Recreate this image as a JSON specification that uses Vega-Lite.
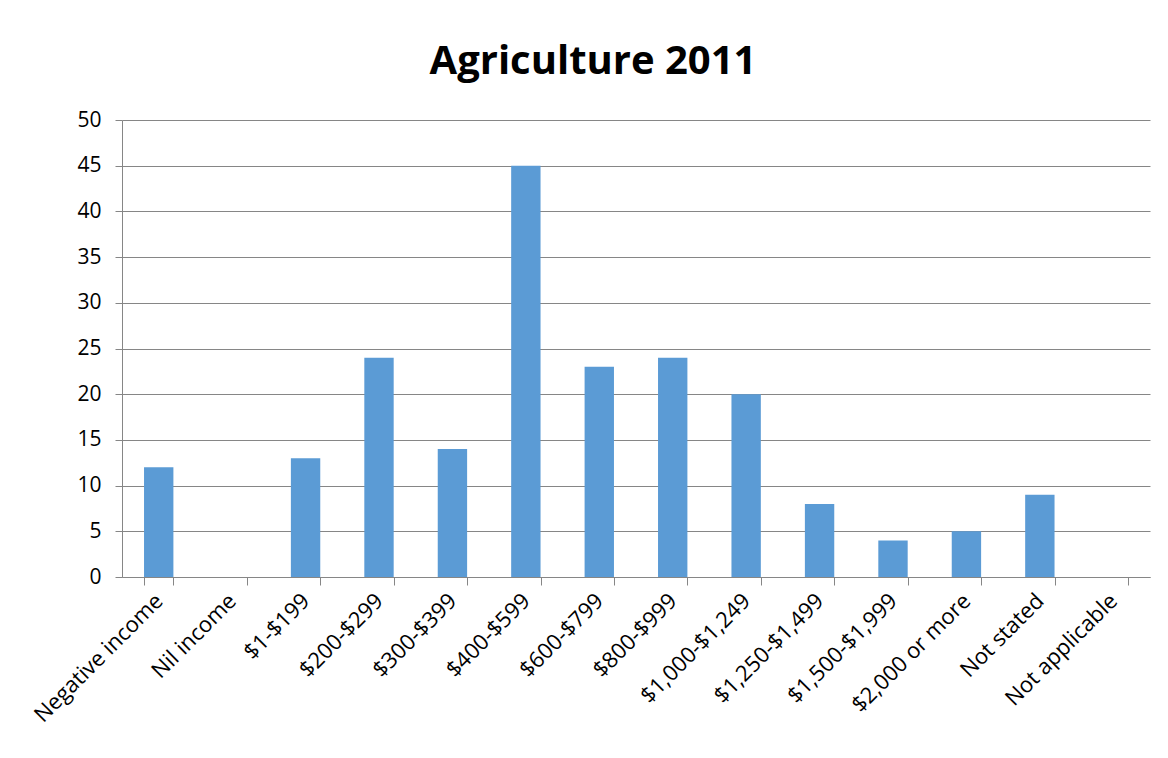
{
  "$schema": "https://vega.github.io/schema/vega-lite/v6.json",
  "autosize": "none",
  "width": 1028,
  "height": 457,
  "padding": {"left": 122, "top": 120, "right": 18, "bottom": 181},
  "background": "white",
  "title": {
    "text": "Agriculture 2011",
    "font": "Open Sans",
    "fontSize": 40,
    "fontWeight": "bold",
    "color": "#000000",
    "anchor": "middle",
    "dx": -43,
    "offset": 27
  },
  "data": {
    "values": [
      {"income": "Negative income", "count": 12},
      {"income": "Nil income", "count": 0},
      {"income": "$1-$199", "count": 13},
      {"income": "$200-$299", "count": 24},
      {"income": "$300-$399", "count": 14},
      {"income": "$400-$599", "count": 45},
      {"income": "$600-$799", "count": 23},
      {"income": "$800-$999", "count": 24},
      {"income": "$1,000-$1,249", "count": 20},
      {"income": "$1,250-$1,499", "count": 8},
      {"income": "$1,500-$1,999", "count": 4},
      {"income": "$2,000 or more", "count": 5},
      {"income": "Not stated", "count": 9},
      {"income": "Not applicable", "count": 0}
    ]
  },
  "mark": {"type": "bar", "color": "#5B9BD5"},
  "encoding": {
    "x": {
      "field": "income",
      "type": "nominal",
      "sort": null,
      "scale": {"paddingInner": 0.6, "paddingOuter": 0.3},
      "axis": {
        "title": null,
        "tickBand": "extent",
        "labelAngle": -45,
        "labelAlign": "right",
        "labelBaseline": "middle",
        "labelFont": "Open Sans",
        "labelFontSize": 22,
        "labelColor": "#000000",
        "labelPadding": 12,
        "tickSize": 8,
        "tickColor": "#868686",
        "domainColor": "#868686",
        "labelOverlap": false
      }
    },
    "y": {
      "field": "count",
      "type": "quantitative",
      "scale": {"domain": [0, 50]},
      "axis": {
        "title": null,
        "values": [0, 5, 10, 15, 20, 25, 30, 35, 40, 45, 50],
        "labelFont": "Open Sans",
        "labelFontSize": 21,
        "labelColor": "#000000",
        "labelPadding": 14,
        "tickSize": 7,
        "tickColor": "#868686",
        "domainColor": "#868686",
        "grid": true,
        "gridColor": "#868686",
        "gridWidth": 1
      }
    }
  },
  "config": {
    "view": {"stroke": null},
    "axis": {"gridOpacity": 1}
  }
}
